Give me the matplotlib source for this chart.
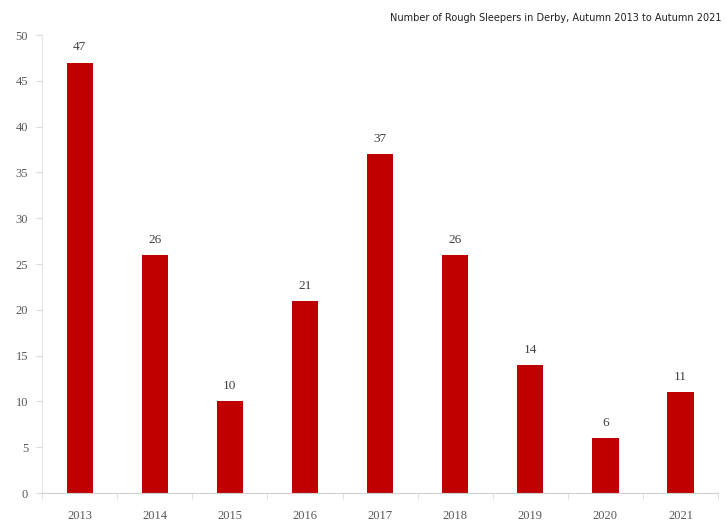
import numpy as np
import matplotlib.pyplot as plt

years = ['2013', '2014', '2015', '2016', '2017', '2018', '2019', '2020', '2021']
sleepers = [47, 26, 10, 21, 37, 26, 14, 6, 11]

plt.rcParams['font.family'] = ['Liberation Serif', 'DejaVu Serif']

fig = plt.figure(figsize=(7.26, 5.27), dpi=100)
ax = fig.add_axes([0.058, 0.0645, 0.931, 0.869])

x = np.arange(len(years))
bars = ax.bar(x, sleepers, width=0.35, color='#c00000', zorder=2)

for xi, v in zip(x, sleepers):
    ax.text(xi, v + 1.0, str(v), ha='center', va='bottom', fontsize=9.5, color='#404040')

ax.set_xlim(-0.5, len(years) - 0.5)
ax.set_ylim(0, 50)
ax.set_yticks(range(0, 51, 5))
ax.set_xticks(x)
ax.set_xticklabels(years)
ax.set_xticks(np.arange(-0.5, len(years)), minor=True)
ax.tick_params(axis='x', which='major', length=0, pad=12, labelsize=9, labelcolor='#595959')
ax.tick_params(axis='x', which='minor', length=4, color='#d9d9d9', direction='out')
ax.tick_params(axis='y', length=4, color='#d9d9d9', labelsize=9, labelcolor='#595959', pad=6)

for side in ['top', 'right']:
    ax.spines[side].set_visible(False)
ax.spines['left'].set_color('#e6e6e6')
ax.spines['bottom'].set_color('#d0d0d0')

fig.text(0.994, 0.966, 'Number of Rough Sleepers in Derby, Autumn 2013 to Autumn 2021',
         ha='right', va='center', fontsize=7, color='#202020', family='DejaVu Sans')

fig.savefig('out.png', dpi=100)
